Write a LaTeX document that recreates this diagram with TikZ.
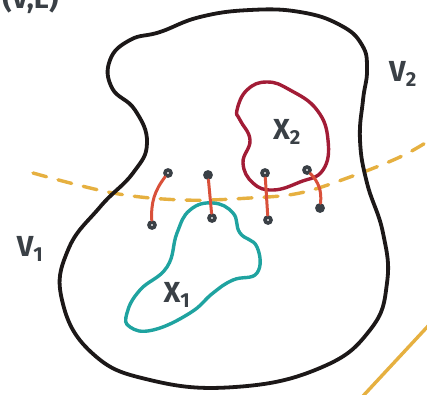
\documentclass[tikz,border=0pt]{standalone}
\usepackage{fontspec}
\setsansfont{Fira Sans}
\usepackage{tikz}
\usetikzlibrary{positioning}
\definecolor{inkblack}{HTML}{1C1818}
\definecolor{inkgray}{HTML}{3A4046}
\definecolor{cutorange}{HTML}{E6B040}
\definecolor{cutred}{HTML}{D9503A}
\definecolor{setred}{HTML}{A21C36}
\definecolor{setteal}{HTML}{1FA3A0}
\tikzset{
  blob/.style={draw=#1, line join=round},
  vtx/.style={
    circle, inner sep=0pt, minimum size=6pt,
    draw=inkgray, line width=3.6pt, fill=#1
  },
  cutedge/.style={draw=cutred, line width=3pt, line cap=round},
  lbl/.style={font=\sffamily\bfseries\fontsize{29}{29}\selectfont, text=inkgray},
}
\begin{document}
\begin{tikzpicture}[x=1pt, y=-1pt]
  \useasboundingbox[fill=white] (0,0) rectangle (427,394);
  % partition V1 / V2
  \draw[cutorange, line width=3.4pt, dash pattern=on 14pt off 12pt, line cap=round]
    plot[smooth, tension=0.6] coordinates {(33,173) (113,193) (183,200) (250,198)
      (300,193) (350,177) (400,157) (430,140)};
  \draw[cutorange, line width=3.4pt] (363,396) -- (429,325);
  % whole graph
  \draw[blob=inkblack, line width=3.8pt] plot[smooth cycle, tension=0.75]
    coordinates {(160,32) (200,17) (250,10) (300,12)
    (340,25) (362,45) (367,70) (363,100) (360,140) (367,183) (383,233) (387,283)
    (370,330) (320,368) (235,387) (150,380) (92,353) (62,300) (68,250) (100,207)
    (133,173) (147,143) (135,110) (112,88) (110,60) (130,40)};
  % X1 and X2
  \draw[blob=setred, line width=3.4pt] plot[smooth cycle, tension=0.75]
    coordinates {(237,110) (247,90) (267,82) (290,90)
    (317,110) (328,140) (323,170) (300,182) (273,190) (253,183) (243,163)
    (250,140) (240,120)};
  \draw[blob=setteal, line width=3.4pt] plot[smooth cycle, tension=0.75]
    coordinates {(127,313) (140,290) (167,267)
    (177,233) (190,210) (213,203) (233,213) (240,233) (257,247) (257,273)
    (233,280) (213,293) (190,313) (153,330) (130,327)};
  % vertices
  \node[vtx=white]   (a1) at (168,173) {};
  \node[vtx=inkgray] (b1) at (208,175) {};
  \node[vtx=white]   (c1) at (265,173) {};
  \node[vtx=white]   (d1) at (307,170) {};
  \node[vtx=white]   (a2) at (152,225) {};
  \node[vtx=white]   (b2) at (212,218) {};
  \node[vtx=white]   (c2) at (268,220) {};
  \node[vtx=inkgray] (d2) at (320,208) {};
  % crossing edges
  \draw[cutedge] (a1) to[bend right=20] (a2);
  \draw[cutedge] (b1) -- (b2);
  \draw[cutedge] (c1) -- (c2);
  \draw[cutedge] (d1) to[bend left=25] (d2);
  % labels
  \node[lbl] (x1) at (177,295) {X\textsubscript{1}};
  \node[lbl] (x2) at (287,132) {X\textsubscript{2}};
  \node[lbl] (v1) at (30,249) {V\textsubscript{1}};
  \node[lbl] (v2) at (403,74) {V\textsubscript{2}};
  \node[lbl, anchor=base east] (g) at (62,8) {(V,E)};
\end{tikzpicture}
\end{document}
